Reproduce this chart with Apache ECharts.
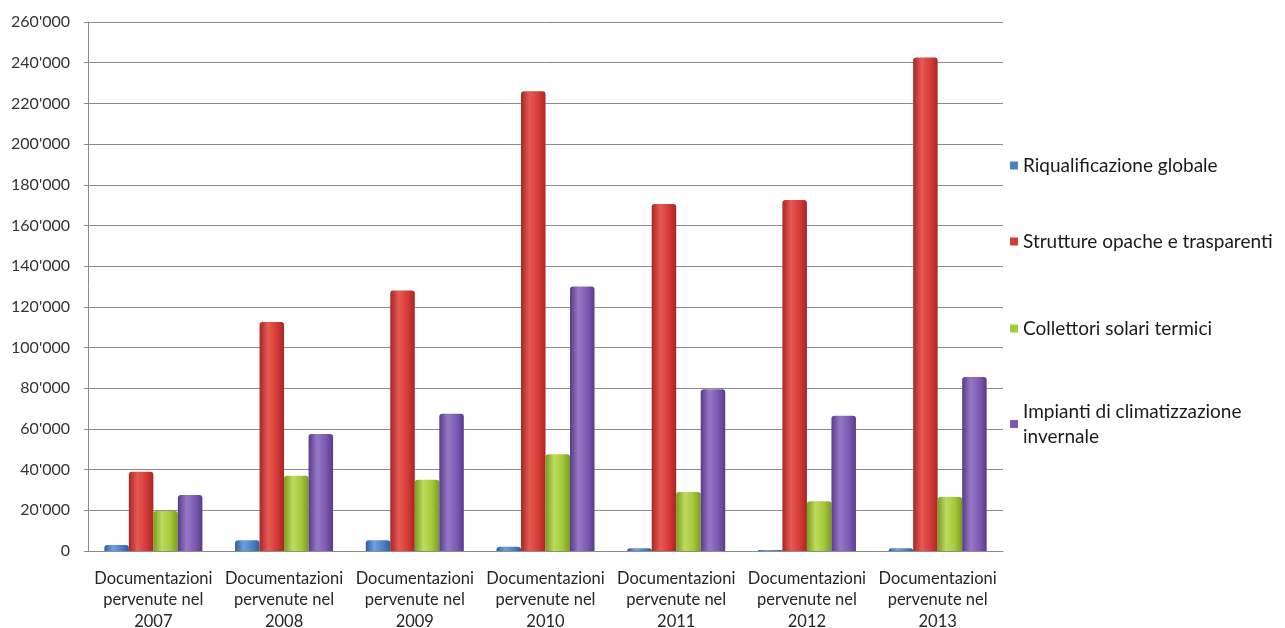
<!DOCTYPE html>
<html>
<head>
<meta charset="utf-8">
<script src="https://cdn.jsdelivr.net/npm/echarts@6/dist/echarts.min.js"></script>
<style>html,body{margin:0;padding:0;background:#fff}#c{width:1285px;height:628px}</style>
</head>
<body>
<div id="c"></div>
<script>
const categories = ["Documentazioni\npervenute nel\n2007","Documentazioni\npervenute nel\n2008","Documentazioni\npervenute nel\n2009","Documentazioni\npervenute nel\n2010","Documentazioni\npervenute nel\n2011","Documentazioni\npervenute nel\n2012","Documentazioni\npervenute nel\n2013"];
const seriesNames = ["Riqualificazione globale","Strutture opache e trasparenti","Collettori solari termici","Impianti di climatizzazione invernale"];
const riqualificazione = [3000, 5300, 5300, 2100, 1300, 500, 1300];
const strutture = [39000, 112500, 128000, 226000, 170500, 172500, 242500];
const collettori = [19700, 37000, 35000, 47500, 29000, 24500, 26500];
const impianti = [27500, 57500, 67500, 130000, 79500, 66500, 85500];
const yTicks = {min: 0, max: 260000, interval: 20000};

function cyl(dark, mid, light) {
  return new echarts.graphic.LinearGradient(0, 0, 1, 0, [
    {offset: 0, color: dark},
    {offset: 0.35, color: light},
    {offset: 0.7, color: mid},
    {offset: 1, color: dark}
  ]);
}
const colors = [
  cyl('#2f5f9e', '#4a82c8', '#6fa0de'),
  cyl('#a82624', '#d63b36', '#e65a53'),
  cyl('#7b9a22', '#a4c93a', '#bcdc5c'),
  cyl('#573c8a', '#7d5bb3', '#9678c6')
];
const legendColors = ['#4a82c8', '#d63b36', '#a4c93a', '#7d5bb3'];
const dataSets = [riqualificazione, strutture, collettori, impianti];
const legendTops = [153, 229, 316, 399];

const chart = echarts.init(document.getElementById('c'));
chart.setOption({
  animation: false,
  textStyle: {fontFamily: 'Lato'},
  grid: {left: 88, right: 282, top: 22, bottom: 77, outerBoundsMode: 'none', containLabel: false},
  legend: seriesNames.map((n, i) => ({
    data: [{name: n, itemStyle: {color: legendColors[i]}}],
    left: 1010, top: legendTops[i], orient: 'vertical', padding: 0,
    itemWidth: 8, itemHeight: 8, itemGap: 0,
    icon: 'rect',
    textStyle: {fontSize: 19, color: '#1a1a1a', fontFamily: 'Lato', lineHeight: 25},
    formatter: name => name === seriesNames[3] ? 'Impianti di climatizzazione\ninvernale' : name
  })),
  xAxis: {
    type: 'category', data: categories,
    axisLine: {lineStyle: {color: '#8c8c8c'}},
    axisTick: {show: false},
    axisLabel: {color: '#262626', fontSize: 16.5, lineHeight: 21.5, margin: 16.5, interval: 0, fontFamily: 'Lato'}
  },
  yAxis: {
    type: 'value', min: yTicks.min, max: yTicks.max, interval: yTicks.interval,
    axisLine: {show: true, lineStyle: {color: '#8c8c8c'}},
    axisTick: {show: true, length: 4, lineStyle: {color: '#8c8c8c'}},
    splitLine: {lineStyle: {color: '#8c8c8c', width: 1}},
    axisLabel: {color: '#333', fontSize: 16, margin: 18, fontFamily: 'Lato',
      formatter: v => v === 0 ? '0' : String(v).replace(/\B(?=(\d{3})+(?!\d))/g, "'")}
  },
  series: seriesNames.map((n, i) => ({
    name: n, type: 'bar', data: dataSets[i],
    barGap: '0%', barCategoryGap: '25%',
    itemStyle: {color: colors[i], borderRadius: [3, 3, 0, 0]}
  }))
});
</script>
</body>
</html>
